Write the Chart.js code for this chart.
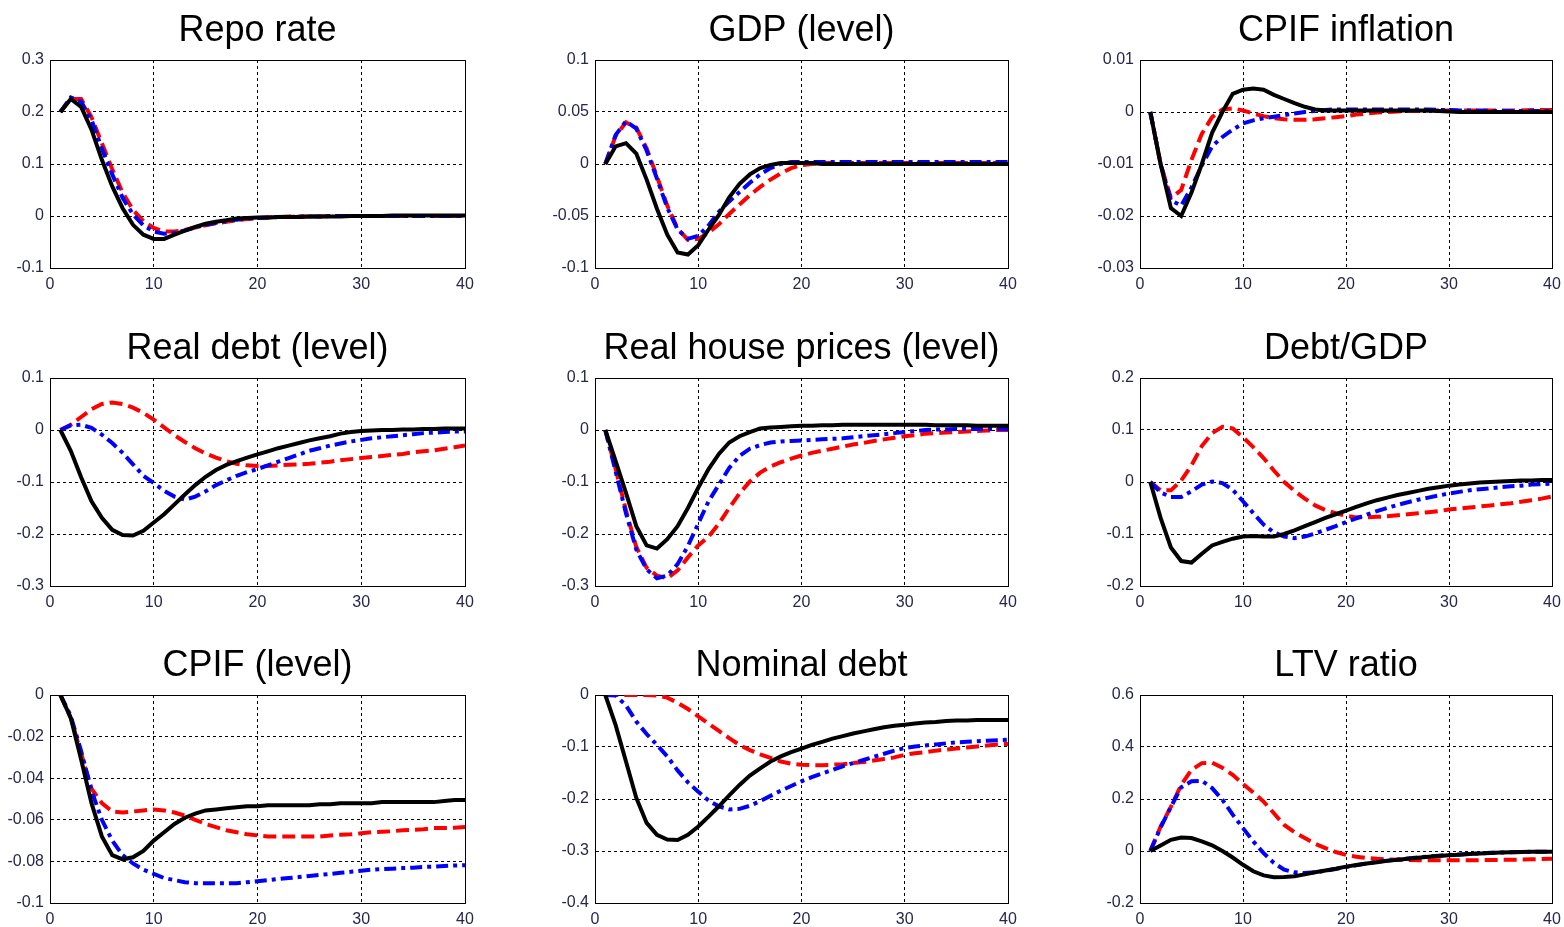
<!DOCTYPE html>
<html>
<head>
<meta charset="utf-8">
<script src="https://cdn.jsdelivr.net/npm/chart.js@4.4.1/dist/chart.umd.min.js"></script>
<style>
  html, body { margin: 0; padding: 0; background: #fff; overflow: hidden; }
  .panel { position: absolute; }
</style>
</head>
<body>
<script>
// quarters after the shock
const periods = [1,2,3,4,5,6,7,8,9,10,11,12,13,14,15,16,17,18,19,20,21,22,23,24,25,26,27,28,29,30,31,32,33,34,35,36,37,38,39,40];
const xTicks = [0, 10, 20, 30, 40];

const titles = ['Repo rate', 'GDP (level)', 'CPIF inflation', 'Real debt (level)', 'Real house prices (level)', 'Debt/GDP', 'CPIF (level)', 'Nominal debt', 'LTV ratio'];
const yMin = [-0.1, -0.1, -0.03, -0.3, -0.3, -0.2, -0.1, -0.4, -0.2];
const yMax = [0.3, 0.1, 0.01, 0.1, 0.1, 0.2, 0, 0, 0.6];
const yStep = [0.1, 0.05, 0.01, 0.1, 0.1, 0.1, 0.02, 0.1, 0.2];

// Repo rate
const repoBlack = [0.200,0.225,0.210,0.166,0.108,0.057,0.015,-0.017,-0.036,-0.044,-0.044,-0.036,-0.028,-0.021,-0.015,-0.011,-0.008,-0.005,-0.004,-0.003,-0.003,-0.002,-0.002,-0.002,-0.001,-0.001,-0.001,-0.001,0,0,0,0,0.001,0.001,0.001,0.001,0.001,0.001,0.001,0.001];
const repoRed = [0.200,0.225,0.225,0.190,0.140,0.090,0.045,0.012,-0.010,-0.023,-0.030,-0.030,-0.027,-0.022,-0.018,-0.014,-0.011,-0.008,-0.006,-0.004,-0.003,-0.002,-0.001,-0.001,-0.001,-0.001,0,0,0,0,0,0,0,0,0,0,0,0,0,0];
const repoBlue = [0.200,0.228,0.220,0.185,0.130,0.080,0.035,0.003,-0.018,-0.030,-0.034,-0.032,-0.028,-0.022,-0.017,-0.013,-0.010,-0.007,-0.005,-0.004,-0.003,-0.002,-0.002,-0.001,-0.001,-0.001,0,0,0,0,0,0,0,0,0,0,0,0,0,0];

// GDP (level)
const gdpBlack = [0,0.017,0.020,0.010,-0.015,-0.043,-0.068,-0.085,-0.087,-0.078,-0.063,-0.049,-0.032,-0.019,-0.010,-0.004,-0.001,0.001,0.001,0.001,0.001,0,0,0,0,0,0,0,0,0,0,0,0,0,0,0,0,0,0,0];
const gdpRed = [0,0.027,0.040,0.035,0.015,-0.012,-0.040,-0.062,-0.073,-0.072,-0.066,-0.058,-0.048,-0.039,-0.030,-0.022,-0.015,-0.009,-0.004,-0.001,0,0.001,0.001,0.001,0.001,0.001,0.001,0.001,0.001,0.001,0.001,0.001,0.001,0.001,0.001,0.001,0.001,0.001,0.001,0.001];
const gdpBlue = [0,0.028,0.041,0.034,0.013,-0.014,-0.042,-0.063,-0.072,-0.069,-0.059,-0.046,-0.036,-0.027,-0.018,-0.010,-0.004,0,0.002,0.002,0.002,0.002,0.002,0.002,0.002,0.002,0.002,0.002,0.002,0.002,0.002,0.002,0.002,0.002,0.002,0.002,0.002,0.002,0.002,0.002];

// CPIF inflation
const infBlack = [0,-0.0100,-0.0185,-0.0200,-0.0155,-0.0100,-0.0040,0,0.0035,0.0043,0.0045,0.0043,0.0033,0.0025,0.0017,0.0010,0.0005,0.0003,0.0003,0.0003,0.0003,0.0003,0.0003,0.0003,0.0003,0.0003,0.0003,0.0003,0.0002,0.0001,0,0,0,0,0,0,0,0,0,0];
const infRed = [0,-0.0100,-0.0165,-0.0150,-0.0092,-0.0042,-0.0010,0.0005,0.0007,0.0003,-0.0003,-0.0008,-0.0012,-0.0014,-0.0015,-0.0015,-0.0014,-0.0012,-0.0010,-0.0008,-0.0005,-0.0003,-0.0001,0,0.0001,0.0002,0.0002,0.0003,0.0003,0.0003,0.0003,0.0003,0.0003,0.0003,0.0003,0.0003,0.0003,0.0004,0.0004,0.0004];
const infBlue = [0,-0.0100,-0.0170,-0.0180,-0.0145,-0.0103,-0.0066,-0.0048,-0.0034,-0.0022,-0.0016,-0.0012,-0.0009,-0.0006,-0.0003,0,0.0002,0.0004,0.0005,0.0005,0.0005,0.0005,0.0005,0.0005,0.0005,0.0005,0.0005,0.0005,0.0004,0.0004,0.0003,0.0003,0.0003,0.0002,0.0002,0.0002,0.0002,0.0002,0.0002,0.0002];

// Real debt (level)
const rdBlack = [0,-0.040,-0.091,-0.137,-0.169,-0.192,-0.202,-0.203,-0.194,-0.178,-0.162,-0.143,-0.124,-0.106,-0.090,-0.077,-0.067,-0.060,-0.053,-0.047,-0.041,-0.035,-0.030,-0.025,-0.020,-0.016,-0.012,-0.007,-0.004,-0.002,-0.001,0,0,0.001,0.001,0.002,0.002,0.003,0.003,0.003];
const rdRed = [0,0.010,0.025,0.040,0.050,0.053,0.050,0.043,0.033,0.020,0.005,-0.010,-0.023,-0.035,-0.045,-0.053,-0.060,-0.065,-0.068,-0.069,-0.069,-0.068,-0.067,-0.066,-0.065,-0.063,-0.061,-0.058,-0.056,-0.054,-0.052,-0.050,-0.048,-0.046,-0.043,-0.041,-0.039,-0.036,-0.033,-0.030];
const rdBlue = [0,0.009,0.010,0.004,-0.009,-0.025,-0.044,-0.066,-0.088,-0.102,-0.117,-0.128,-0.134,-0.128,-0.118,-0.106,-0.097,-0.088,-0.081,-0.075,-0.068,-0.061,-0.054,-0.047,-0.040,-0.035,-0.030,-0.026,-0.022,-0.019,-0.016,-0.014,-0.012,-0.010,-0.008,-0.006,-0.005,-0.004,-0.003,-0.003];

// Real house prices (level)
const rhBlack = [0,-0.060,-0.121,-0.185,-0.222,-0.228,-0.210,-0.185,-0.150,-0.111,-0.075,-0.046,-0.024,-0.012,-0.004,0.003,0.005,0.006,0.007,0.008,0.008,0.009,0.009,0.010,0.010,0.010,0.010,0.010,0.010,0.010,0.010,0.010,0.009,0.009,0.009,0.009,0.008,0.008,0.008,0.008];
const rhRed = [0,-0.075,-0.155,-0.225,-0.265,-0.280,-0.285,-0.270,-0.245,-0.222,-0.205,-0.180,-0.150,-0.122,-0.099,-0.082,-0.070,-0.062,-0.055,-0.049,-0.044,-0.040,-0.036,-0.032,-0.028,-0.025,-0.021,-0.018,-0.015,-0.012,-0.010,-0.007,-0.006,-0.005,-0.004,-0.003,-0.002,-0.001,0,0];
const rhBlue = [0,-0.080,-0.160,-0.230,-0.268,-0.285,-0.280,-0.258,-0.223,-0.180,-0.137,-0.105,-0.073,-0.050,-0.036,-0.029,-0.024,-0.022,-0.021,-0.020,-0.019,-0.018,-0.017,-0.016,-0.014,-0.012,-0.010,-0.008,-0.006,-0.004,-0.002,0,0.001,0.001,0.002,0.002,0.002,0.002,0.002,0.002];

// Debt/GDP
const dgBlack = [0,-0.069,-0.126,-0.152,-0.155,-0.138,-0.122,-0.115,-0.109,-0.105,-0.104,-0.105,-0.105,-0.100,-0.093,-0.085,-0.077,-0.069,-0.062,-0.055,-0.048,-0.041,-0.035,-0.030,-0.025,-0.021,-0.017,-0.013,-0.010,-0.007,-0.005,-0.003,-0.001,0,0.001,0.002,0.003,0.003,0.004,0.004];
const dgRed = [0,-0.016,-0.016,0.003,0.032,0.069,0.094,0.106,0.103,0.086,0.067,0.046,0.022,0,-0.017,-0.032,-0.045,-0.054,-0.060,-0.065,-0.068,-0.068,-0.067,-0.066,-0.064,-0.062,-0.060,-0.058,-0.056,-0.053,-0.051,-0.049,-0.047,-0.045,-0.043,-0.041,-0.038,-0.035,-0.032,-0.028];
const dgBlue = [0,-0.020,-0.029,-0.029,-0.018,-0.005,0.001,-0.002,-0.015,-0.037,-0.060,-0.082,-0.097,-0.105,-0.108,-0.105,-0.099,-0.092,-0.085,-0.077,-0.070,-0.063,-0.056,-0.050,-0.044,-0.039,-0.034,-0.030,-0.026,-0.022,-0.019,-0.016,-0.014,-0.012,-0.010,-0.008,-0.007,-0.005,-0.004,-0.003];

// CPIF (level)
const cpBlack = [0,-0.011,-0.031,-0.052,-0.068,-0.077,-0.079,-0.078,-0.075,-0.070,-0.066,-0.062,-0.059,-0.057,-0.0555,-0.055,-0.0545,-0.054,-0.0535,-0.0535,-0.053,-0.053,-0.053,-0.053,-0.053,-0.0525,-0.0525,-0.052,-0.052,-0.052,-0.052,-0.0515,-0.0515,-0.0515,-0.0515,-0.0515,-0.0515,-0.051,-0.0505,-0.0505];
const cpRed = [0,-0.011,-0.028,-0.045,-0.052,-0.056,-0.0565,-0.056,-0.0555,-0.055,-0.0555,-0.0565,-0.058,-0.060,-0.062,-0.0635,-0.065,-0.066,-0.067,-0.0675,-0.068,-0.068,-0.068,-0.068,-0.068,-0.068,-0.0675,-0.0672,-0.067,-0.0665,-0.066,-0.0658,-0.0655,-0.065,-0.0648,-0.0645,-0.064,-0.064,-0.0638,-0.0635];
const cpBlue = [0,-0.010,-0.027,-0.046,-0.060,-0.070,-0.077,-0.081,-0.084,-0.086,-0.088,-0.089,-0.090,-0.0905,-0.0905,-0.0905,-0.0905,-0.0905,-0.090,-0.0895,-0.089,-0.0885,-0.088,-0.0875,-0.087,-0.0865,-0.086,-0.0855,-0.085,-0.0845,-0.084,-0.0837,-0.0835,-0.0832,-0.083,-0.0827,-0.0825,-0.0822,-0.082,-0.0818];

// Nominal debt
const ndBlack = [0,-0.058,-0.128,-0.198,-0.246,-0.269,-0.278,-0.279,-0.269,-0.253,-0.234,-0.214,-0.193,-0.173,-0.155,-0.141,-0.128,-0.118,-0.110,-0.103,-0.096,-0.090,-0.084,-0.079,-0.074,-0.070,-0.066,-0.062,-0.059,-0.057,-0.055,-0.053,-0.052,-0.050,-0.049,-0.049,-0.048,-0.048,-0.048,-0.048];
const ndRed = [0,0,0,0,0,-0.001,-0.005,-0.015,-0.027,-0.041,-0.055,-0.069,-0.083,-0.096,-0.106,-0.114,-0.121,-0.128,-0.132,-0.134,-0.135,-0.135,-0.134,-0.133,-0.131,-0.129,-0.126,-0.123,-0.120,-0.115,-0.112,-0.110,-0.107,-0.105,-0.103,-0.101,-0.099,-0.097,-0.095,-0.094];
const ndBlue = [0,-0.001,-0.020,-0.051,-0.075,-0.096,-0.118,-0.145,-0.168,-0.186,-0.203,-0.214,-0.220,-0.219,-0.213,-0.204,-0.194,-0.184,-0.175,-0.166,-0.158,-0.151,-0.144,-0.137,-0.131,-0.125,-0.119,-0.113,-0.107,-0.102,-0.099,-0.097,-0.095,-0.093,-0.091,-0.090,-0.089,-0.088,-0.087,-0.086];

// LTV ratio
const ltvBlack = [0,0.021,0.043,0.052,0.050,0.037,0.022,0,-0.025,-0.053,-0.078,-0.094,-0.101,-0.100,-0.097,-0.090,-0.082,-0.075,-0.068,-0.060,-0.054,-0.048,-0.043,-0.038,-0.034,-0.030,-0.026,-0.022,-0.019,-0.016,-0.014,-0.012,-0.010,-0.008,-0.006,-0.005,-0.004,-0.003,-0.003,-0.003];
const ltvRed = [0,0.094,0.170,0.254,0.312,0.338,0.340,0.320,0.293,0.258,0.225,0.190,0.145,0.100,0.072,0.050,0.028,0.011,-0.004,-0.015,-0.022,-0.027,-0.030,-0.032,-0.034,-0.035,-0.036,-0.036,-0.036,-0.036,-0.036,-0.036,-0.035,-0.035,-0.034,-0.034,-0.033,-0.032,-0.031,-0.030];
const ltvBlue = [0,0.090,0.170,0.245,0.268,0.270,0.242,0.197,0.140,0.088,0.037,-0.008,-0.046,-0.072,-0.082,-0.085,-0.082,-0.076,-0.069,-0.062,-0.055,-0.048,-0.042,-0.037,-0.033,-0.029,-0.025,-0.021,-0.018,-0.015,-0.013,-0.011,-0.009,-0.007,-0.006,-0.005,-0.004,-0.003,-0.003,-0.003];

const blackSeries = [repoBlack, gdpBlack, infBlack, rdBlack, rhBlack, dgBlack, cpBlack, ndBlack, ltvBlack];
const redSeries = [repoRed, gdpRed, infRed, rdRed, rhRed, dgRed, cpRed, ndRed, ltvRed];
const blueSeries = [repoBlue, gdpBlue, infBlue, rdBlue, rhBlue, dgBlue, cpBlue, ndBlue, ltvBlue];

// where each plot box sits on the page
const colLeft = [50, 595, 1140];
const colRight = [465, 1008, 1552];
const rowTop = [60, 378, 695];
const plotH = 208;
const titleH = 60, axisH = 30, yAxisW = 50, padRight = 12;

const tickColor = '#262650';
const tickFont = { family: '"Liberation Sans", Arial, sans-serif', size: 16 };

// solid box round the plot area, like matlab's "box on"
const boxPlugin = {
    id: 'box',
    beforeDatasetsDraw(chart) {
        const a = chart.chartArea;
        const ctx = chart.ctx;
        ctx.save();
        ctx.strokeStyle = '#000';
        ctx.lineWidth = 1;
        ctx.setLineDash([]);
        ctx.strokeRect(Math.round(a.left) + 0.5, Math.round(a.top) + 0.5, Math.round(a.right - a.left), Math.round(a.bottom - a.top));
        ctx.restore();
    }
};

function toPoints(values) {
    return values.map((v, i) => ({ x: periods[i], y: v }));
}

for (let i = 0; i < 9; i++) {
    const col = i % 3, row = Math.floor(i / 3);
    const plotW = colRight[col] - colLeft[col];
    const div = document.createElement('div');
    div.className = 'panel';
    div.style.left = (colLeft[col] - yAxisW) + 'px';
    div.style.top = (rowTop[row] - titleH) + 'px';
    const w = yAxisW + plotW + padRight;
    const h = titleH + plotH + axisH;
    div.style.width = w + 'px';
    div.style.height = h + 'px';
    const canvas = document.createElement('canvas');
    canvas.width = w;
    canvas.height = h;
    div.appendChild(canvas);
    document.body.appendChild(div);

    new Chart(canvas.getContext('2d'), {
        type: 'line',
        data: {
            datasets: [
                {
                    label: 'black',
                    data: toPoints(blackSeries[i]),
                    borderColor: '#000000',
                    borderWidth: 4,
                },
                {
                    label: 'blue',
                    data: toPoints(blueSeries[i]),
                    borderColor: '#0000ff',
                    borderWidth: 4,
                    borderDash: [12, 5, 4, 5],
                },
                {
                    label: 'red',
                    data: toPoints(redSeries[i]),
                    borderColor: '#ff0000',
                    borderWidth: 4,
                    borderDash: [13, 6],
                }
            ]
        },
        options: {
            responsive: false,
            animation: false,
            layout: { padding: { left: 0, right: padRight, top: 0, bottom: 0 } },
            elements: {
                point: { radius: 0 },
                line: { tension: 0, fill: false, borderCapStyle: 'butt' }
            },
            plugins: {
                legend: { display: false },
                tooltip: { enabled: false },
                title: {
                    display: true,
                    text: titles[i],
                    fullSize: false,
                    color: '#000',
                    font: { family: '"Liberation Sans", Arial, sans-serif', size: 36, weight: 'normal', lineHeight: 1.2 },
                    padding: { top: 9, bottom: 7.8 }
                }
            },
            scales: {
                x: {
                    type: 'linear',
                    min: xTicks[0],
                    max: xTicks[xTicks.length - 1],
                    afterFit: s => { s.height = axisH; s.paddingLeft = 0; s.paddingRight = 0; },
                    afterBuildTicks: s => { s.ticks = xTicks.map(v => ({ value: v })); },
                    ticks: { color: tickColor, font: tickFont, padding: 7, maxRotation: 0, autoSkip: false },
                    grid: { color: '#000', lineWidth: 1, drawTicks: false },
                    border: { display: true, color: '#000', width: 1, dash: [3, 3] }
                },
                y: {
                    min: yMin[i],
                    max: yMax[i],
                    afterFit: s => { s.width = yAxisW; s.paddingTop = 0; s.paddingBottom = 0; },
                    ticks: {
                        stepSize: yStep[i],
                        color: tickColor,
                        font: tickFont,
                        padding: 6,
                        autoSkip: false,
                        callback: v => String(+(+v).toFixed(4))
                    },
                    grid: { color: '#000', lineWidth: 1, drawTicks: false },
                    border: { display: true, color: '#000', width: 1, dash: [3, 3] }
                }
            }
        },
        plugins: [boxPlugin]
    });
}
</script>
</body>
</html>
